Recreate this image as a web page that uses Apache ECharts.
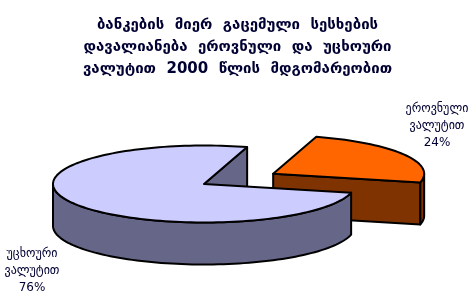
<!DOCTYPE html>
<html>
<head>
<meta charset="utf-8">
<script src="https://cdn.jsdelivr.net/npm/echarts@6/dist/echarts.min.js"></script>
<style>
  html, body { margin: 0; padding: 0; background: #fff; }
  #chart { width: 475px; height: 293px; }
</style>
</head>
<body>
<div id="chart"></div>
<script>
// data
const titleLines = [
  "ბანკების  მიერ  გაცემული  სესხების",
  "დავალიანება  ეროვნული  და  უცხოური",
  "ვალუტით  2000  წლის  მდგომარეობით"
];
const categories = ["ეროვნული\nვალუტით", "უცხოური\nვალუტით"];
const shares = [24, 76];

// styles / layout
const topColors = ["#ff6600", "#ccccff"];
const sideColors = ["#7f3300", "#666688"];
const explode = [0.53, 0];
const labelAt = [[437, 100], [32, 245]];
const CX = 204, CY = 184, RX = 151, RY = 38.5, DEPTH = 42, START = -13;
const TEXT_COLOR = "#000033";

const total = shares.reduce((s, v) => s + v, 0);
const rad = (d) => (d * Math.PI) / 180;

function renderSlice(params, api) {
  const i = params.dataIndex;
  const before = shares.slice(0, i).reduce((s, v) => s + v, 0);
  const a0 = START + (360 * before) / total;
  const a1 = a0 + (360 * api.value(0)) / total;
  const mid = rad((a0 + a1) / 2);
  const cx = CX + explode[i] * RX * Math.cos(mid);
  const cy = CY - explode[i] * RY * Math.sin(mid);
  const pt = (t, d) => [cx + RX * Math.cos(rad(t)), cy - RY * Math.sin(rad(t)) + d];
  const arc = (s, e, d) => {
    const pts = [];
    const n = Math.max(2, Math.ceil((e - s) / 2));
    for (let k = 0; k <= n; k++) pts.push(pt(s + ((e - s) * k) / n, d));
    return pts;
  };
  const stroke = { stroke: "#000", lineWidth: 2, lineJoin: "round" };
  const children = [];

  // radial walls that face the viewer
  if (Math.cos(rad(a0)) > 0) {
    children.push({
      type: "polygon",
      shape: { points: [[cx, cy], pt(a0, 0), pt(a0, DEPTH), [cx, cy + DEPTH]] },
      style: Object.assign({ fill: sideColors[i] }, stroke)
    });
  }
  if (Math.cos(rad(a1)) < 0) {
    children.push({
      type: "polygon",
      shape: { points: [[cx, cy], pt(a1, 0), pt(a1, DEPTH), [cx, cy + DEPTH]] },
      style: Object.assign({ fill: sideColors[i] }, stroke)
    });
  }

  // outer wall, front half only
  for (let k = -1; k <= 1; k++) {
    const s = Math.max(a0, 180 + 360 * k);
    const e = Math.min(a1, 360 + 360 * k);
    if (e > s) {
      const pts = arc(s, e, 0).concat(arc(s, e, DEPTH).reverse());
      children.push({
        type: "polygon",
        shape: { points: pts },
        style: Object.assign({ fill: sideColors[i] }, stroke)
      });
    }
  }

  // top face
  children.push({
    type: "polygon",
    shape: { points: [[cx, cy]].concat(arc(a0, a1, 0)) },
    style: Object.assign({ fill: topColors[i] }, stroke)
  });

  // label
  children.push({
    type: "text",
    style: {
      text: categories[i] + "\n" + api.value(0) + "%",
      x: labelAt[i][0],
      y: labelAt[i][1],
      align: "center",
      verticalAlign: "top",
      fill: TEXT_COLOR,
      fontFamily: "DejaVu Sans",
      fontSize: 12,
      lineHeight: 17
    }
  });

  return { type: "group", children: children };
}

const chart = echarts.init(document.getElementById("chart"));
chart.setOption({
  animation: false,
  title: {
    text: titleLines.join("\n"),
    left: "center",
    top: 9,
    textStyle: {
      color: TEXT_COLOR,
      fontFamily: "DejaVu Sans",
      fontSize: 15,
      fontWeight: "bold",
      lineHeight: 22
    }
  },
  series: [
    {
      type: "custom",
      coordinateSystem: "none",
      renderItem: renderSlice,
      data: shares.map((v, i) => ({ name: categories[i], value: [v] }))
    }
  ]
});
</script>
</body>
</html>
